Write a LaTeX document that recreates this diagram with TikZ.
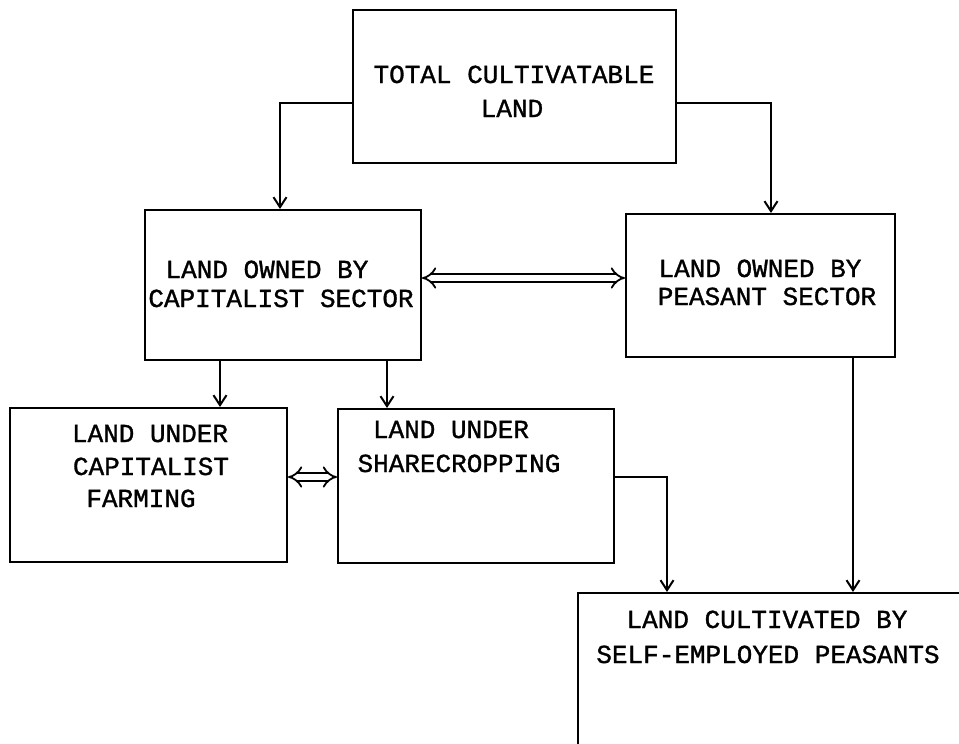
\documentclass[tikz,border=0pt]{standalone}
\usepackage{fontspec}
\newfontfamily\typewriter[FakeBold=1.2]{Liberation Mono}
\usetikzlibrary{arrows.meta}
\begin{document}
\begin{tikzpicture}[x=1pt,y=-1pt,
  box/.style={draw, line width=2pt, rectangle, inner sep=0pt},
  txt/.style={anchor=base, inner sep=0pt, font=\typewriter\fontsize{26}{33}\selectfont},
  arr/.style={line width=2pt, -{Straight Barb[length=10pt,width=13pt,line width=2pt]}},
  dbl/.style={double, double distance=5.5pt, line width=1.8pt, {Implies[length=9pt]}-{Implies[length=9pt]}}]
\useasboundingbox (0,0) rectangle (959,744);
\clip (0,0) rectangle (959,744);

% boxes
\node[box, minimum width=323pt, minimum height=153pt] (top)   at (514.5,86.5) {};
\node[box, minimum width=276pt, minimum height=150pt] (cap)   at (283,285) {};
\node[box, minimum width=269pt, minimum height=143pt] (peas)  at (760.5,285.5) {};
\node[box, minimum width=277pt, minimum height=154pt] (farm)  at (148.5,485) {};
\node[box, minimum width=276pt, minimum height=154pt] (share) at (476,486) {};
\node[box, minimum width=500pt, minimum height=300pt] (self)  at (828,743) {};

% labels
\node[txt] (top1) at (514,83)  {TOTAL CULTIVATABLE};
\node[txt] (top2) at (512,117) {LAND};
\node[txt] (cap1) at (267,278) {LAND OWNED BY};
\node[txt] (cap2) at (281,307) {CAPITALIST SECTOR};
\node[txt] (pea1) at (760,277) {LAND OWNED BY};
\node[txt] (pea2) at (767,305) {PEASANT SECTOR};
\node[txt] (far1) at (150,442) {LAND UNDER};
\node[txt] (far2) at (151,475) {CAPITALIST};
\node[txt] (far3) at (141,507) {FARMING};
\node[txt] (sha1) at (451,438) {LAND UNDER};
\node[txt] (sha2) at (459,472) {SHARECROPPING};
\node[txt] (sel1) at (767,628) {LAND CULTIVATED BY};
\node[txt] (sel2) at (768,663) {SELF-EMPLOYED PEASANTS};

% bends of the connectors
\coordinate (tl) at (280,103);
\coordinate (tr) at (771,103);
\coordinate (cf) at (220,0);
\coordinate (cs) at (387,0);
\coordinate (mid1) at (0,278);
\coordinate (mid2) at (0,477);
\coordinate (sr) at (667,477);
\coordinate (pd) at (853,0);

% connectors
\draw[arr] (top.west |- tl) -- (tl) -- (tl |- cap.north);
\draw[arr] (top.east |- tr) -- (tr) -- (tr |- peas.north);
\draw[dbl] (cap.east |- mid1) -- (peas.west |- mid1);
\draw[arr] (cf |- cap.south) -- (cf |- farm.north);
\draw[arr] (cs |- cap.south) -- (cs |- share.north);
\draw[dbl] (farm.east |- mid2) -- (share.west |- mid2);
\draw[arr] (share.east |- sr) -- (sr) -- (sr |- self.north);
\draw[arr] (pd |- peas.south) -- (pd |- self.north);
\end{tikzpicture}
\end{document}
